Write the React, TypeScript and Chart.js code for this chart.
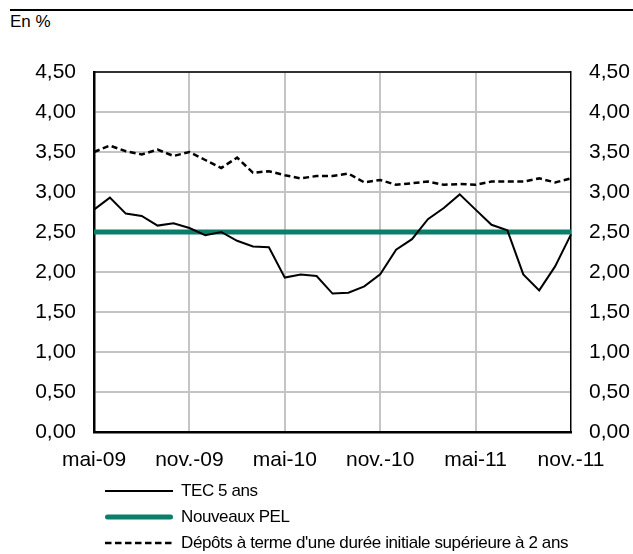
import React, { useEffect, useRef } from "react";
import { Chart, registerables } from "chart.js";

Chart.register(...registerables);

const months = [
  "mai-09", "juin-09", "juil.-09", "août-09", "sept.-09", "oct.-09",
  "nov.-09", "déc.-09", "janv.-10", "févr.-10", "mars-10", "avr.-10",
  "mai-10", "juin-10", "juil.-10", "août-10", "sept.-10", "oct.-10",
  "nov.-10", "déc.-10", "janv.-11", "févr.-11", "mars-11", "avr.-11",
  "mai-11", "juin-11", "juil.-11", "août-11", "sept.-11", "oct.-11",
  "nov.-11",
];

const tec5Ans = [
  2.78, 2.93, 2.73, 2.70, 2.58, 2.61, 2.55, 2.46, 2.50, 2.39, 2.32, 2.31,
  1.93, 1.97, 1.95, 1.73, 1.74, 1.82, 1.97, 2.28, 2.41, 2.66, 2.80, 2.97,
  2.78, 2.59, 2.52, 1.97, 1.77, 2.07, 2.47,
];

const nouveauxPEL = [
  2.5, 2.5, 2.5, 2.5, 2.5, 2.5, 2.5, 2.5, 2.5, 2.5, 2.5, 2.5,
  2.5, 2.5, 2.5, 2.5, 2.5, 2.5, 2.5, 2.5, 2.5, 2.5, 2.5, 2.5,
  2.5, 2.5, 2.5, 2.5, 2.5, 2.5, 2.5,
];

const depotsTerme = [
  3.50, 3.58, 3.51, 3.47, 3.53, 3.45, 3.50, 3.40, 3.30, 3.43, 3.24, 3.26,
  3.21, 3.17, 3.20, 3.20, 3.23, 3.12, 3.15, 3.09, 3.11, 3.13, 3.09, 3.10,
  3.09, 3.13, 3.13, 3.13, 3.17, 3.12, 3.17,
];

const seriesNames = [
  "TEC 5 ans",
  "Nouveaux PEL",
  "Dépôts à terme d'une durée initiale supérieure à 2 ans",
];

const GREEN = "#0b7d6b";
const GRID = "#c4c4c4";
const FONT = "'Liberation Sans', Arial, sans-serif";

const fmt = (v: number) => v.toFixed(2).replace(".", ",");

const topBorder = {
  id: "topBorder",
  afterDraw(chart: any) {
    const { ctx, chartArea } = chart;
    ctx.save();
    ctx.strokeStyle = "#000";
    ctx.lineWidth = 1.5;
    ctx.beginPath();
    ctx.moveTo(chartArea.left, chartArea.top);
    ctx.lineTo(chartArea.right, chartArea.top);
    ctx.stroke();
    ctx.restore();
  },
};

export default function App() {
  const ref = useRef<HTMLCanvasElement | null>(null);

  useEffect(() => {
    if (!ref.current) return;
    const tickFont = { family: FONT, size: 21 };
    const chart = new Chart(ref.current, {
      type: "line",
      data: {
        labels: months,
        datasets: [
          {
            label: seriesNames[0],
            data: tec5Ans,
            borderColor: "#000",
            borderWidth: 2,
            pointRadius: 0,
            tension: 0,
            order: 1,
          },
          {
            label: seriesNames[1],
            data: nouveauxPEL,
            borderColor: GREEN,
            borderWidth: 5,
            pointRadius: 0,
            tension: 0,
            order: 2,
          },
          {
            label: seriesNames[2],
            data: depotsTerme,
            borderColor: "#000",
            borderWidth: 2.5,
            borderDash: [6, 3.5],
            pointRadius: 0,
            tension: 0,
            order: 0,
          },
        ],
      },
      options: {
        animation: false,
        responsive: false,
        maintainAspectRatio: false,
        layout: { padding: { top: 72, left: 0, right: 0, bottom: 0 } },
        plugins: {
          legend: { display: false },
          tooltip: { enabled: false },
        },
        scales: {
          x: {
            type: "category",
            offset: false,
            grid: {
              drawTicks: false,
              lineWidth: 2,
              color: (c: any) =>
                c.index % 6 === 0 && c.index !== 0 && c.index !== months.length - 1
                  ? GRID
                  : "rgba(0,0,0,0)",
            },
            border: { color: "#000", width: 2.5 },
            ticks: {
              autoSkip: false,
              maxRotation: 0,
              minRotation: 0,
              padding: 16,
              color: "#000",
              font: tickFont,
              callback: (_v: any, i: number) => (i % 6 === 0 ? months[i] : ""),
            },
            afterFit: (s: any) => {
              s.height = 48;
            },
          },
          y: {
            position: "left",
            min: 0,
            max: 4.5,
            grid: {
              drawTicks: false,
              lineWidth: 2,
              color: (c: any) => (c.index === 0 ? "rgba(0,0,0,0)" : GRID),
            },
            border: { color: "#000", width: 2.5 },
            ticks: {
              stepSize: 0.5,
              padding: 18,
              color: "#000",
              font: tickFont,
              callback: (v: any) => fmt(Number(v)),
            },
            afterFit: (s: any) => {
              s.width = 94;
            },
          },
          y1: {
            position: "right",
            min: 0,
            max: 4.5,
            grid: { drawOnChartArea: false, drawTicks: false },
            border: { color: "#000", width: 1.5 },
            ticks: {
              stepSize: 0.5,
              padding: 18,
              color: "#000",
              font: tickFont,
              callback: (v: any) => fmt(Number(v)),
            },
            afterFit: (s: any) => {
              s.width = 62;
            },
          },
        },
      },
      plugins: [topBorder],
    } as any);
    return () => chart.destroy();
  }, []);

  const legendRow = (i: number, line: React.ReactNode) => (
    <div
      key={i}
      style={{ display: "flex", alignItems: "center", height: 26 }}
    >
      <svg width={68} height={26} style={{ display: "block" }}>
        {line}
      </svg>
      <span
        style={{
          marginLeft: 8,
          fontSize: 17,
          letterSpacing: "-0.4px",
          lineHeight: "26px",
          whiteSpace: "nowrap",
        }}
      >
        {seriesNames[i]}
      </span>
    </div>
  );

  return (
    <div
      style={{
        position: "absolute",
        left: 0,
        top: 0,
        width: 633,
        height: 554,
        background: "#fff",
        fontFamily: FONT,
        color: "#000",
        overflow: "hidden",
      }}
    >
      <div
        style={{
          position: "absolute",
          left: 10,
          top: 9,
          width: 623,
          height: 2,
          background: "#000",
        }}
      />
      <div
        style={{
          position: "absolute",
          left: 10,
          top: 13,
          fontSize: 17,
          lineHeight: "18px",
        }}
      >
        En %
      </div>
      <canvas
        ref={ref}
        width={633}
        height={480}
        style={{ position: "absolute", left: 0, top: 0, width: 633, height: 480 }}
      />
      <div style={{ position: "absolute", left: 105, top: 478 }}>
        {legendRow(0, <line x1={0} y1={13} x2={68} y2={13} stroke="#000" strokeWidth={2} />)}
        {legendRow(
          1,
          <line x1={2.5} y1={13} x2={65.5} y2={13} stroke={GREEN} strokeWidth={5} strokeLinecap="round" />
        )}
        {legendRow(
          2,
          <line x1={0} y1={13} x2={68} y2={13} stroke="#000" strokeWidth={2.5} strokeDasharray="6.5 3.5" />
        )}
      </div>
    </div>
  );
}
